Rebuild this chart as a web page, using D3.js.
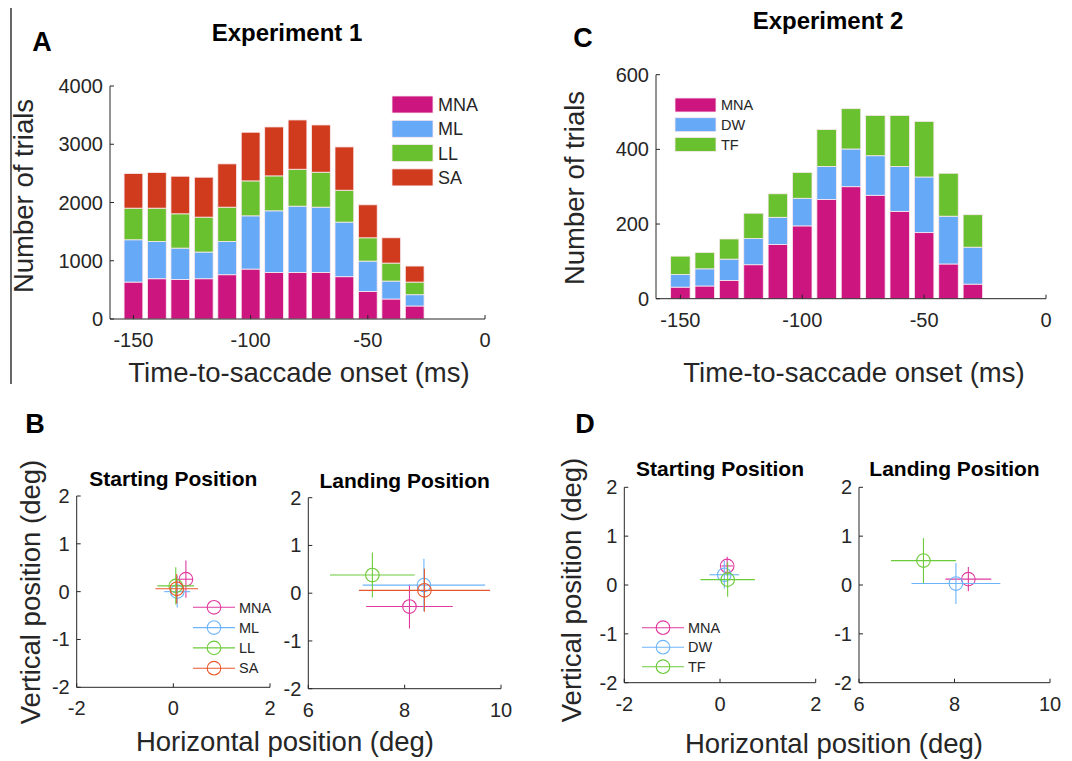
<!DOCTYPE html>
<html>
<head>
<meta charset="utf-8">
<script src="https://cdn.jsdelivr.net/npm/d3@7"></script>
<style>
  body { margin: 0; background: #fff; }
  svg text { font-family: "Liberation Sans", Arial, Helvetica, sans-serif; fill: #262626; }
</style>
</head>
<body>
<div id="fig"></div>
<script>
// data
const timeBins = [-150, -140, -130, -120, -110, -100, -90, -80, -70, -60, -50, -40, -30];

const exp1Names = ["MNA", "ML", "LL", "SA"];
const exp1MNA = [634, 691, 680, 691, 760, 857, 800, 800, 800, 726, 474, 343, 223];
const exp1ML  = [726, 640, 537, 458, 571, 914, 1057, 1137, 1120, 937, 520, 308, 194];
const exp1LL  = [543, 572, 589, 600, 589, 600, 600, 634, 600, 548, 400, 309, 217];
const exp1SA  = [594, 611, 645, 685, 743, 835, 840, 846, 811, 743, 566, 434, 275];

const exp2Names = ["MNA", "DW", "TF"];
const exp2MNA = [31, 34, 49, 91, 145, 195, 266, 300, 277, 234, 177, 93, 39];
const exp2DW  = [34, 46, 57, 70, 73, 74, 88, 101, 106, 120, 149, 128, 99];
const exp2TF  = [49, 44, 54, 68, 63, 69, 99, 108, 108, 137, 149, 115, 87];

// mean position and spread (deg), one entry per condition
const exp1StartX = [0.26, 0.08, 0.05, 0.07];
const exp1StartY = [0.26, 0.00, 0.12, 0.06];
const exp1StartXErr = [0.15, 0.27, 0.38, 0.44];
const exp1StartYErr = [0.39, 0.33, 0.39, 0.31];
const exp1LandX = [8.10, 8.40, 7.33, 8.41];
const exp1LandY = [-0.28, 0.17, 0.38, 0.06];
const exp1LandXErr = [0.90, 1.27, 0.88, 1.36];
const exp1LandYErr = [0.46, 0.55, 0.47, 0.45];

const exp2StartX = [0.15, 0.09, 0.16];
const exp2StartY = [0.39, 0.21, 0.11];
const exp2StartXErr = [0.12, 0.31, 0.57];
const exp2StartYErr = [0.19, 0.28, 0.35];
const exp2LandX = [8.29, 8.03, 7.35];
const exp2LandY = [0.12, 0.03, 0.50];
const exp2LandXErr = [0.48, 0.93, 0.68];
const exp2LandYErr = [0.25, 0.42, 0.46];

const timeTicks = [-150, -100, -50, 0];
const exp1CountTicks = [0, 1000, 2000, 3000, 4000];
const exp2CountTicks = [0, 200, 400, 600];
const posTicks = [-2, -1, 0, 1, 2];
const startXTicks = [-2, 0, 2];
const landXTicks = [6, 8, 10];

const barColors = {MNA: "#cd1580", ML: "#66aaf7", DW: "#66aaf7", LL: "#6ac12f", TF: "#6ac12f", SA: "#cf3b1c"};
const dotColors = {MNA: "#e03a9e", ML: "#6cb4fa", DW: "#6cb4fa", LL: "#6ccb3a", TF: "#6ccb3a", SA: "#e8572c"};

const W = 1072, H = 761;
const svg = d3.select("#fig").append("svg").attr("width", W).attr("height", H);

// little helpers
function label(x, y, txt, size, opts) {
  opts = opts || {};
  let t = svg.append("text")
    .attr("x", x).attr("y", y)
    .attr("font-size", size)
    .attr("text-anchor", opts.anchor || "middle")
    .attr("font-weight", opts.bold ? "bold" : "normal")
    .text(txt);
  if (opts.rotate) t.attr("transform", "rotate(-90," + x + "," + y + ")");
  if (opts.fill) t.style("fill", opts.fill);
  return t;
}

function axes(x, y, xTicks, yTicks, xFmt, yFmt) {
  let g = svg.append("g");
  let x0 = x.range()[0], x1 = x.range()[1];
  let y0 = y.range()[0], y1 = y.range()[1];
  g.append("line").attr("x1", x0).attr("x2", x1).attr("y1", y0).attr("y2", y0)
    .attr("stroke", "#262626").attr("stroke-width", 1);
  g.append("line").attr("x1", x0).attr("x2", x0).attr("y1", y0).attr("y2", y1)
    .attr("stroke", "#262626").attr("stroke-width", 1);
  // inward ticks, like matlab
  xTicks.forEach(function (v) {
    g.append("line").attr("x1", x(v)).attr("x2", x(v)).attr("y1", y0).attr("y2", y0 - 4)
      .attr("stroke", "#262626");
    label(x(v), y0 + 28, xFmt ? xFmt(v) : v, 20);
  });
  yTicks.forEach(function (v) {
    g.append("line").attr("x1", x0).attr("x2", x0 + 4).attr("y1", y(v)).attr("y2", y(v))
      .attr("stroke", "#262626");
    label(x0 - 7, y(v) + 7, yFmt ? yFmt(v) : v, 20, {anchor: "end"});
  });
}

function stackedPanel(names, series, box, yMax, yTicks, legend) {
  let x = d3.scaleLinear().domain([-160, 0]).range([box.left, box.right]);
  let y = d3.scaleLinear().domain([0, yMax]).range([box.bottom, box.top]);
  let rows = timeBins.map(function (t, i) {
    let r = {t: t};
    names.forEach(function (n, k) { r[n] = series[k][i]; });
    return r;
  });
  let stacked = d3.stack().keys(names)(rows);
  let bw = x(-152) - x(-160);
  svg.append("g").selectAll("g").data(stacked).join("g")
    .attr("fill", d => barColors[d.key])
    .selectAll("rect").data(d => d).join("rect")
    .attr("x", d => x(d.data.t) - bw / 2)
    .attr("width", bw)
    .attr("y", d => y(d[1]))
    .attr("height", d => y(d[0]) - y(d[1]))
    .attr("stroke", "#fbe9ef").attr("stroke-width", 0.8);
  axes(x, y, timeTicks, yTicks);

  // legend
  names.forEach(function (n, k) {
    let yy = legend.y + k * legend.dy;
    svg.append("rect").attr("x", legend.x).attr("y", yy)
      .attr("width", legend.w).attr("height", legend.h)
      .attr("fill", barColors[n]).attr("stroke", "#fbe9ef").attr("stroke-width", 0.8);
    label(legend.x + legend.w + 5, yy + legend.h / 2 + legend.fs * 0.36, n, legend.fs, {anchor: "start"});
  });
}

function posPanel(names, xs, ys, xe, ye, box, xDomain, xTicks, title, legend) {
  let x = d3.scaleLinear().domain(xDomain).range([box.left, box.right]);
  let y = d3.scaleLinear().domain([-2, 2]).range([box.bottom, box.top]);
  axes(x, y, xTicks, posTicks);
  label((box.left + box.right) / 2, box.titleY, title, 21, {bold: true, fill: "#000"});
  let g = svg.append("g").attr("fill", "none").attr("stroke-width", 1.1);
  names.forEach(function (n, i) {
    let c = dotColors[n];
    g.append("line").attr("x1", x(xs[i] - xe[i])).attr("x2", x(xs[i] + xe[i]))
      .attr("y1", y(ys[i])).attr("y2", y(ys[i])).attr("stroke", c);
    g.append("line").attr("x1", x(xs[i])).attr("x2", x(xs[i]))
      .attr("y1", y(ys[i] - ye[i])).attr("y2", y(ys[i] + ye[i])).attr("stroke", c);
    g.append("circle").attr("cx", x(xs[i])).attr("cy", y(ys[i])).attr("r", 6.8)
      .attr("stroke", c);
  });
  if (legend) {
    names.forEach(function (n, k) {
      let yy = legend.y + k * legend.dy, c = dotColors[n];
      g.append("line").attr("x1", legend.x).attr("x2", legend.x + 42)
        .attr("y1", yy).attr("y2", yy).attr("stroke", c);
      g.append("circle").attr("cx", legend.x + 21).attr("cy", yy).attr("r", 6.8).attr("stroke", c);
      label(legend.x + 46, yy + 5.2, n, 14.5, {anchor: "start"});
    });
  }
}

// left frame line
svg.append("line").attr("x1", 11).attr("x2", 11).attr("y1", 8).attr("y2", 384)
  .attr("stroke", "#000").attr("stroke-width", 1.2);

// panel A
label(42, 51, "A", 27, {bold: true, fill: "#000"});
label(287, 41, "Experiment 1", 24, {bold: true, fill: "#000"});
stackedPanel(exp1Names, [exp1MNA, exp1ML, exp1LL, exp1SA],
  {left: 110, right: 485, top: 86, bottom: 319}, 4000, exp1CountTicks,
  {x: 392, y: 96, dy: 24.3, w: 41, h: 17, fs: 18});
label(33, 196, "Number of trials", 27.5, {rotate: true});
label(299, 382, "Time-to-saccade onset (ms)", 27.5);

// panel C
label(583, 47, "C", 27, {bold: true, fill: "#000"});
label(828, 29, "Experiment 2", 24, {bold: true, fill: "#000"});
stackedPanel(exp2Names, [exp2MNA, exp2DW, exp2TF],
  {left: 656, right: 1046, top: 74.7, bottom: 298.7}, 600, exp2CountTicks,
  {x: 675, y: 98, dy: 19.7, w: 41, h: 14, fs: 14.5});
label(584, 188, "Number of trials", 27.5, {rotate: true});
label(854, 382, "Time-to-saccade onset (ms)", 27.5);

// panel B
label(35, 433, "B", 27, {bold: true, fill: "#000"});
posPanel(exp1Names, exp1StartX, exp1StartY, exp1StartXErr, exp1StartYErr,
  {left: 76.7, right: 270, top: 496, bottom: 687.3, titleY: 486}, [-2, 2], startXTicks,
  "Starting Position", {x: 193, y: 607.3, dy: 20.3});
posPanel(exp1Names, exp1LandX, exp1LandY, exp1LandXErr, exp1LandYErr,
  {left: 308.3, right: 501, top: 497.7, bottom: 688.7, titleY: 488}, [6, 10], landXTicks,
  "Landing Position");
label(40, 592, "Vertical position (deg)", 27.5, {rotate: true});
label(285, 751, "Horizontal position (deg)", 27.5);

// panel D
label(585, 433, "D", 27, {bold: true, fill: "#000"});
posPanel(exp2Names, exp2StartX, exp2StartY, exp2StartXErr, exp2StartYErr,
  {left: 624.3, right: 815.7, top: 487.3, bottom: 682.7, titleY: 476}, [-2, 2], startXTicks,
  "Starting Position", {x: 642, y: 627.7, dy: 19.5});
posPanel(exp2Names, exp2LandX, exp2LandY, exp2LandXErr, exp2LandYErr,
  {left: 859, right: 1050, top: 487.3, bottom: 682.7, titleY: 476}, [6, 10], landXTicks,
  "Landing Position");
label(581, 590, "Vertical position (deg)", 27.5, {rotate: true});
label(834, 753, "Horizontal position (deg)", 27.5);
</script>
</body>
</html>
